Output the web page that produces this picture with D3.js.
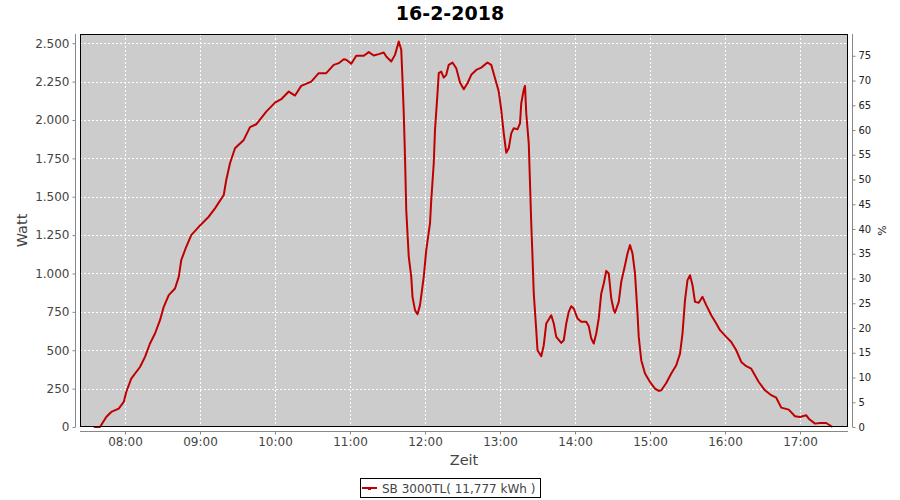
<!DOCTYPE html>
<html>
<head>
<meta charset="utf-8">
<script src="https://cdn.jsdelivr.net/npm/d3@7"></script>
<style>
  body { margin: 0; background: #fff; }
  svg { display: block; }
  text { font-family: "DejaVu Sans", sans-serif; }
</style>
</head>
<body>
<svg id="chart" width="900" height="500"></svg>
<script>
const title = "16-2-2018";
const seriesName = "SB 3000TL( 11,777 kWh )";
const xLabel = "Zeit";
const yLabel = "Watt";
const y2Label = "%";

const times = ["07:35","07:40","07:45","07:49","07:55","07:59","08:01","08:05","08:12","08:16","08:20","08:24","08:28","08:31","08:35","08:40","08:43","08:45","08:49","08:53","08:59","09:07","09:12","09:19","09:21","09:24","09:28","09:35","09:40","09:45","09:53","10:00","10:05","10:11","10:16","10:21","10:29","10:35","10:41","10:47","10:51","10:55","10:57","11:01","11:05","11:11","11:15","11:19","11:23","11:27","11:29","11:33","11:36","11:39","11:41","11:42","11:43","11:44","11:45","11:47","11:49","11:50","11:52","11:54","11:56","11:59","12:01","12:04","12:05","12:07","12:08","12:10","12:11","12:13","12:15","12:17","12:19","12:22","12:25","12:28","12:31","12:34","12:37","12:41","12:45","12:50","12:53","12:56","12:59","13:01","13:03","13:05","13:07","13:09","13:11","13:14","13:16","13:17","13:19","13:20","13:21","13:23","13:24","13:25","13:26","13:27","13:29","13:30","13:33","13:35","13:37","13:41","13:43","13:45","13:49","13:51","13:53","13:55","13:57","13:59","14:02","14:05","14:09","14:11","14:13","14:15","14:17","14:19","14:21","14:23","14:25","14:27","14:29","14:31","14:32","14:35","14:37","14:40","14:42","14:44","14:46","14:48","14:50","14:51","14:53","14:56","15:00","15:04","15:07","15:09","15:13","15:17","15:21","15:24","15:26","15:28","15:30","15:32","15:34","15:36","15:39","15:42","15:45","15:49","15:53","15:56","16:01","16:05","16:09","16:13","16:17","16:21","16:27","16:32","16:37","16:41","16:45","16:51","16:56","17:00","17:05","17:07","17:12","17:16","17:21","17:26"];

const watts = [0,0,65,98,120,163,228,315,391,457,544,609,696,783,859,902,978,1087,1174,1250,1304,1370,1424,1511,1609,1718,1816,1870,1953,1972,2054,2113,2135,2185,2159,2222,2250,2305,2305,2359,2370,2396,2392,2366,2418,2418,2442,2420,2429,2439,2413,2381,2424,2511,2457,2261,2044,1761,1413,1109,978,848,761,735,794,978,1152,1326,1478,1718,1935,2174,2305,2315,2276,2294,2359,2374,2337,2244,2200,2239,2294,2326,2341,2374,2359,2272,2185,2065,1913,1787,1816,1913,1946,1939,1978,2109,2196,2222,2044,1848,1587,1326,1109,870,631,500,461,533,674,728,674,587,548,565,674,750,787,772,707,685,685,657,576,544,609,707,870,935,1017,1000,837,761,744,815,946,1054,1130,1185,1130,1000,739,587,435,348,293,250,235,239,287,348,402,478,609,826,957,989,924,815,809,848,794,728,674,631,587,554,500,424,396,380,293,239,207,191,126,113,70,65,76,54,22,26,26,0];

const xTickLabels = ["08:00","09:00","10:00","11:00","12:00","13:00","14:00","15:00","16:00","17:00"];
const yTicks = [0,250,500,750,1000,1250,1500,1750,2000,2250,2500];
const y2Ticks = [0,5,10,15,20,25,30,35,40,45,50,55,60,65,70,75];

const parse = d3.timeParse("%Y-%m-%d %H:%M");
const day = "2018-02-16 ";
const data = times.map((t, i) => ({ t: parse(day + t), v: watts[i] }));

const svg = d3.select("#chart");
const plot = { left: 80, right: 848, top: 34, bottom: 427 };

const x = d3.scaleTime()
  .domain([parse(day + "07:24"), d3.timeSecond.offset(parse(day + "17:38"), 24)])
  .range([plot.left, plot.right]);
const y = d3.scaleLinear().domain([0, 2560]).range([plot.bottom, plot.top]);
const y2 = d3.scaleLinear().domain([0, 79.4]).range([plot.bottom, plot.top]);

// Title
svg.append("text").attr("x", 450).attr("y", 20).attr("text-anchor", "middle")
  .attr("font-size", 19).attr("font-weight", "bold").attr("fill", "#000").text(title);

// plot background
svg.append("rect").attr("x", plot.left).attr("y", plot.top)
  .attr("width", plot.right - plot.left).attr("height", plot.bottom - plot.top)
  .attr("fill", "#cccccc");

const xTickDates = xTickLabels.map(s => parse(day + s));

// gridlines
const grid = svg.append("g");
grid.selectAll("line.h").data(yTicks.filter(d => d > 0)).join("line")
  .attr("x1", plot.left).attr("x2", plot.right)
  .attr("y1", d => Math.round(y(d)) + 0.5).attr("y2", d => Math.round(y(d)) + 0.5)
  .attr("stroke", "#fff").attr("stroke-width", 1).attr("stroke-dasharray", "2,2");
grid.selectAll("line.v").data(xTickDates).join("line")
  .attr("y1", plot.top).attr("y2", plot.bottom)
  .attr("x1", d => Math.round(x(d)) + 0.5).attr("x2", d => Math.round(x(d)) + 0.5)
  .attr("stroke", "#fff").attr("stroke-width", 1).attr("stroke-dasharray", "2,2");

// line
const line = d3.line().x(d => x(d.t)).y(d => y(d.v));
svg.append("path").datum(data).attr("d", line)
  .attr("fill", "none").attr("stroke", "#c00000").attr("stroke-width", 2)
  .attr("stroke-linejoin", "round");

// plot border
svg.append("rect").attr("x", plot.left + 0.5).attr("y", plot.top + 0.5)
  .attr("width", plot.right - plot.left - 1).attr("height", plot.bottom - plot.top - 1)
  .attr("fill", "none").attr("stroke", "#000").attr("stroke-width", 1);

// Left axis
const yAxis = d3.axisLeft(y).tickValues(yTicks).tickSize(3).tickPadding(3)
  .tickFormat(d => d3.format(",")(d).replace(/,/g, "."));
const gy = svg.append("g").attr("transform", "translate(75.5,0)").call(yAxis);
gy.select(".domain").attr("stroke", "#888").attr("d", `M-0,${plot.top}V${plot.bottom}`);
gy.selectAll(".tick line").attr("stroke", "#888");
gy.selectAll(".tick text").attr("font-size", 12).attr("fill", "#444")
  .attr("font-family", "DejaVu Sans");

// Right axis
const y2Axis = d3.axisRight(y2).tickValues(y2Ticks).tickSize(3).tickPadding(3);
const gy2 = svg.append("g").attr("transform", "translate(852.5,0)").call(y2Axis);
gy2.select(".domain").attr("stroke", "#888").attr("d", `M0,${plot.top}V${plot.bottom}`);
gy2.selectAll(".tick line").attr("stroke", "#888");
gy2.selectAll(".tick text").attr("font-size", 10).attr("fill", "#222")
  .attr("font-family", "DejaVu Sans");

// X axis
const xAxis = d3.axisBottom(x).tickValues(xTickDates).tickSize(3).tickPadding(3)
  .tickFormat(d3.timeFormat("%H:%M"));
const gx = svg.append("g").attr("transform", "translate(0,431.5)").call(xAxis);
gx.select(".domain").attr("stroke", "#888").attr("d", `M${plot.left},0H${plot.right}`);
gx.selectAll(".tick line").attr("stroke", "#888");
gx.selectAll(".tick text").attr("font-size", 12).attr("fill", "#444")
  .attr("font-family", "DejaVu Sans");

// axis labels
svg.append("text").attr("x", (plot.left + plot.right) / 2).attr("y", 465)
  .attr("text-anchor", "middle").attr("font-size", 14.5).attr("fill", "#444").text(xLabel);
svg.append("text").attr("transform", `translate(27,${(plot.top + plot.bottom) / 2}) rotate(-90)`)
  .attr("text-anchor", "middle").attr("font-size", 14.5).attr("fill", "#444").text(yLabel);
svg.append("text").attr("transform", `translate(886,${(plot.top + plot.bottom) / 2}) rotate(-90)`)
  .attr("text-anchor", "middle").attr("font-size", 11).attr("fill", "#222").text(y2Label);

// legend
const lg = svg.append("g");
lg.append("rect").attr("x", 360.5).attr("y", 478.5).attr("width", 180).attr("height", 19)
  .attr("fill", "#fff").attr("stroke", "#000");
lg.append("line").attr("x1", 362).attr("x2", 377).attr("y1", 488).attr("y2", 488)
  .attr("stroke", "#c00000").attr("stroke-width", 2);
lg.append("rect").attr("x", 368).attr("y", 488).attr("width", 3).attr("height", 2).attr("fill", "#c00000");
lg.append("text").attr("x", 382).attr("y", 492.5).attr("font-size", 12).attr("fill", "#444")
  .text(seriesName);
</script>
</body>
</html>
